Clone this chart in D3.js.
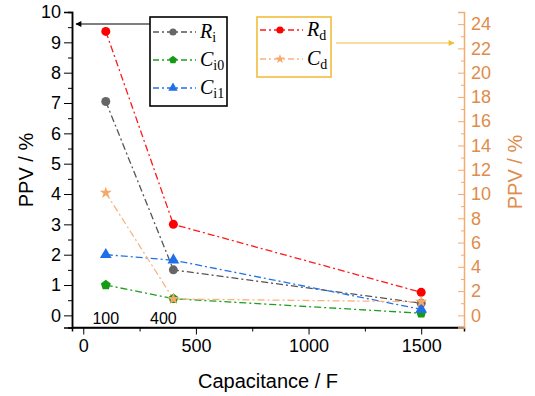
<!DOCTYPE html>
<html lang="en">
<head>
<meta charset="utf-8">
<title>PPV vs capacitance</title>
<script src="https://cdn.jsdelivr.net/npm/d3@7"></script>
<style type="text/css">
  body { margin: 0; background: #fff; }
</style>
</head>
<body>
<script type="text/javascript">

// data
var capacitance = [100, 400, 1500];
var Ri  = [7.05, 1.5, 0.4];    // left axis
var Ci0 = [1.0, 0.55, 0.07];   // left axis
var Ci1 = [2.0, 1.82, 0.2];    // left axis
var Rd  = [23.4, 7.5, 1.9];    // right axis
var Cd  = [10.1, 1.35, 1.12];  // right axis

var xTicks = [0, 500, 1000, 1500];
var xMinor = [250, 750, 1250];
var leftTicks = d3.range(0, 11, 1);
var leftMinor = d3.range(0.5, 10, 1);
var rightTicks = d3.range(0, 25, 2);
var rightMinor = d3.range(1, 25, 2);
var capLabels = ["100", "400"];

var W = 535, H = 396;
var sans = "Liberation Sans, Arial, sans-serif";
var serif = "Liberation Serif, Times New Roman, serif";
var orange = "#f5aa6e", orangeText = "#e08c4a", gold = "#f0bd3c";

var svg = d3.select("body").append("svg")
  .attr("width", W)
  .attr("height", H)
  .style("font-family", sans);

var x = d3.scaleLinear().domain([-50, 1690]).range([72, 464]);
var yL = d3.scaleLinear().domain([-0.4, 10]).range([327.5, 12]);
var yR = d3.scaleLinear().domain([-1, 25]).range([327.5, 12]);

// axes
var gx = svg.append("g").attr("transform", "translate(0,327.5)")
  .call(d3.axisBottom(x).tickValues(xTicks).tickSize(7).tickPadding(5).tickFormat(d3.format("d")));
svg.append("g").attr("transform", "translate(0,327.5)")
  .call(d3.axisBottom(x).tickValues(xMinor).tickSize(4).tickFormat(""));
gx.select(".domain").attr("d", "M72,0H464");

var gl = svg.append("g").attr("transform", "translate(72,0)")
  .call(d3.axisLeft(yL).tickValues(leftTicks).tickSize(8).tickPadding(3));
svg.append("g").attr("transform", "translate(72,0)")
  .call(d3.axisLeft(yL).tickValues(leftMinor).tickSize(4).tickFormat(""));

var gr = svg.append("g").attr("transform", "translate(464,0)")
  .call(d3.axisRight(yR).tickValues(rightTicks).tickSize(-6).tickPadding(7));
var grm = svg.append("g").attr("transform", "translate(464,0)")
  .call(d3.axisRight(yR).tickValues(rightMinor).tickSize(-3).tickFormat(""));
grm.select(".domain").remove();

svg.selectAll(".tick text").style("font-size", "18px").style("font-family", sans);
svg.selectAll(".domain").attr("stroke-width", 1.5);
gr.selectAll("path, line").attr("stroke", orange);
grm.selectAll("line").attr("stroke", orange);
gr.selectAll("text").attr("fill", orangeText);

// axis titles
svg.append("text").attr("x", 268).attr("y", 388).attr("text-anchor", "middle")
  .style("font-size", "20px").text("Capacitance / F");
svg.append("text").attr("transform", "translate(33,170) rotate(-90)")
  .attr("text-anchor", "middle").style("font-size", "20px").text("PPV / %");
svg.append("text").attr("transform", "translate(522,172) rotate(-90)")
  .attr("text-anchor", "middle").style("font-size", "20px").attr("fill", orangeText).text("PPV / %");

// capacitance annotations
svg.selectAll(".capLabel").data(capLabels).enter().append("text")
  .attr("x", function(d) { return x(+d) + (d == "400" ? -10 : 0); })
  .attr("y", 324)
  .attr("text-anchor", "middle").style("font-size", "16px")
  .text(function(d) { return d; });

// series
var series = [
  { name: "R", sub: "i",  vals: Ri,  y: yL, color: "#555555", marker: "gray" },
  { name: "C", sub: "i0", vals: Ci0, y: yL, color: "#1e9e1e", marker: "pentagon" },
  { name: "C", sub: "i1", vals: Ci1, y: yL, color: "#2373e6", marker: "triangle" },
  { name: "R", sub: "d",  vals: Rd,  y: yR, color: "#ff1a1a", marker: "circle" },
  { name: "C", sub: "d",  vals: Cd,  y: yR, color: "#f9b483", marker: "star" }
];

var dash = "7,3,2,3";

function marker(g, s, cx, cy, small) {
  var k = small ? 0.8 : 1;
  var tr = "translate(" + cx + "," + cy + ")";
  if (s.marker == "gray" || s.marker == "circle") {
    g.append("circle").attr("cx", cx).attr("cy", cy).attr("r", 4.5 * k)
      .attr("fill", s.marker == "gray" ? "#666" : "#ff0000");
  } else if (s.marker == "pentagon") {
    var pts = d3.range(5).map(function(i) {
      var a = -Math.PI / 2 + i * 2 * Math.PI / 5;
      return [5.2 * k * Math.cos(a), 5.2 * k * Math.sin(a)];
    });
    g.append("path").attr("transform", tr).attr("d", "M" + pts.join("L") + "Z").attr("fill", "#159a15");
  } else if (s.marker == "triangle") {
    g.append("path").attr("transform", tr)
      .attr("d", d3.symbol().type(d3.symbolTriangle).size(60 * k * k)()).attr("fill", "#1f6fe8");
  } else {
    g.append("path").attr("transform", tr)
      .attr("d", d3.symbol().type(d3.symbolStar).size(45 * k * k)()).attr("fill", "#f6a868");
  }
}

var line = d3.line();
series.forEach(function(s) {
  var pts = capacitance.map(function(c, i) { return [x(c), s.y(s.vals[i])]; });
  svg.append("path").attr("d", line(pts))
    .attr("fill", "none").attr("stroke", s.color).attr("stroke-width", 1.3)
    .attr("stroke-dasharray", dash);
});
series.forEach(function(s) {
  var g = svg.append("g");
  capacitance.forEach(function(c, i) { marker(g, s, x(c), s.y(s.vals[i])); });
});

// legends
function legend(items, bx, by, bw, bh, border, rowY) {
  svg.append("rect").attr("x", bx).attr("y", by).attr("width", bw).attr("height", bh)
    .attr("fill", "#fff").attr("stroke", border).attr("stroke-width", 1.6);
  items.forEach(function(s, i) {
    var yy = rowY[i];
    svg.append("line").attr("x1", bx + 3).attr("x2", bx + 46).attr("y1", yy).attr("y2", yy)
      .attr("stroke", s.color).attr("stroke-width", 1.3).attr("stroke-dasharray", "6,3,2,3");
    marker(svg, s, bx + 23, yy, true);
    var t = svg.append("text").attr("x", bx + 50).attr("y", yy + 6)
      .style("font-family", serif).style("font-size", "20px");
    t.append("tspan").style("font-style", "italic").text(s.name);
    t.append("tspan").style("font-size", "14px").attr("dy", 4).text(s.sub);
  });
}
legend(series.slice(0, 3), 150, 17, 77, 89, "#000", [32, 60, 88]);
legend(series.slice(3), 257, 17, 74, 60, gold, [30, 59]);

// arrows
var defs = svg.append("defs");
[["arrowBlack", "#000"], ["arrowGold", gold]].forEach(function(a) {
  defs.append("marker").attr("id", a[0]).attr("viewBox", "0 0 10 10")
    .attr("refX", 9).attr("refY", 5).attr("markerWidth", 8).attr("markerHeight", 6)
    .attr("orient", "auto").attr("markerUnits", "userSpaceOnUse")
    .append("path").attr("d", "M0,0L10,5L0,10Z").attr("fill", a[1]);
});
svg.append("line").attr("x1", 150).attr("y1", 24).attr("x2", 76).attr("y2", 24)
  .attr("stroke", "#000").attr("stroke-width", 1.2).attr("marker-end", "url(#arrowBlack)");
svg.append("line").attr("x1", 336).attr("y1", 43).attr("x2", 454).attr("y2", 43)
  .attr("stroke", gold).attr("stroke-width", 1.2).attr("marker-end", "url(#arrowGold)");

</script>
</body>
</html>
